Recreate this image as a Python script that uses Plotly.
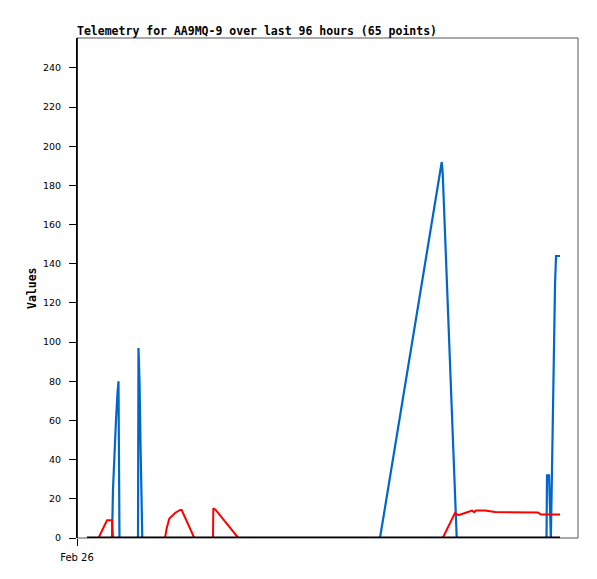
import plotly.graph_objects as go

# Hours since Feb 26 00:00
blue_hours = [1.92, 6.71, 6.90, 7.19, 7.47, 7.76, 7.95, 8.14,
              11.69, 11.78, 11.98, 12.17, 12.36, 12.51,
              58.06, 69.89, 70.08, 72.76,
              89.97, 90.06, 90.45, 90.54, 90.69, 90.80,
              91.02, 91.21, 91.40, 91.60, 91.79, 92.55]
blue_values = [0, 0, 25, 45, 60, 74, 80, 0,
               0, 97, 80, 48, 16, 0,
               0, 192, 186, 0,
               0, 32, 32, 24, 8, 0,
               35, 72, 101, 130, 144, 144]

red_hours = [1.92, 4.12, 5.75, 6.71, 6.76, 6.90,
             16.86, 17.19, 17.69, 18.78, 19.74, 20.06, 22.48,
             26.06, 26.12, 26.58, 30.91,
             70.08, 72.43, 73.06, 74.35, 75.12, 75.69, 76.07, 76.46,
             76.84, 78.18, 80.10, 88.34, 88.91, 92.55]
red_values = [0, 0, 9, 9, 5.5, 0,
              0, 5, 10, 12.8, 14.3, 14.3, 0,
              0, 15.2, 14.3, 0,
              0, 12.8, 11.7, 12.8, 13.5, 14, 13.2, 14,
              14, 14, 13.3, 13, 12, 12]

black_hours = [1.92, 92.55]
black_values = [0, 0]

y_ticks = [0, 20, 40, 60, 80, 100, 120, 140, 160, 180, 200, 220, 240]
x_tick_vals = [0]
x_tick_text = ["Feb 26"]

# page has an 8px body margin; figure sized to place the plot area at 77..578 x 38..538
W, H = 589, 571
L, R, T, B = 69, 19, 30, 41

fig = go.Figure()
fig.add_trace(go.Scatter(x=blue_hours, y=blue_values, mode="lines",
                         line=dict(color="#0066CC", width=2.2), showlegend=False))
fig.add_trace(go.Scatter(x=red_hours, y=red_values, mode="lines",
                         line=dict(color="#FF0000", width=2), showlegend=False))
fig.add_trace(go.Scatter(x=black_hours, y=black_values, mode="lines",
                         line=dict(color="#000000", width=2.8), showlegend=False))

fig.update_layout(
    width=W, height=H,
    margin=dict(l=L, r=R, t=T, b=B, pad=0),
    paper_bgcolor="white", plot_bgcolor="white",
    title=dict(text="<b>Telemetry for AA9MQ-9 over last 96 hours (65 points)</b>",
               font=dict(family="DejaVu Sans Mono", size=11.5, color="black"),
               x=L / W, xanchor="left", xref="container",
               y=1 - 23 / H, yanchor="middle", yref="container"),
    xaxis=dict(range=[0, 96], showgrid=False, zeroline=False,
               tickmode="array", tickvals=x_tick_vals, ticktext=x_tick_text,
               ticks="outside", ticklen=7, tickcolor="black", tickwidth=1,
               ticklabelstandoff=3,
               showline=False,
               tickfont=dict(family="DejaVu Sans", size=10, color="black")),
    yaxis=dict(range=[0, 255.3], showgrid=False, zeroline=False,
               tickmode="array", tickvals=y_ticks,
               ticks="outside", ticklen=7, tickcolor="black", tickwidth=1,
               ticklabelstandoff=6,
               showline=True, linecolor="black", linewidth=1,
               tickfont=dict(family="DejaVu Sans", size=9.5, color="black")),
    shapes=[dict(type="rect", xref="paper", yref="paper", x0=0, y0=0, x1=1, y1=1,
                 line=dict(color="#555555", width=1), layer="below"),
            dict(type="line", xref="paper", yref="paper", x0=0, y0=0, x1=0, y1=1,
                 line=dict(color="black", width=1.5))],
    annotations=[dict(text="<b>Values</b>", textangle=-90, showarrow=False,
                      xref="paper", yref="paper", x=(32 - 77) / (W - L - R), y=0.5,
                      xanchor="center", yanchor="middle",
                      font=dict(family="DejaVu Sans Mono", size=11.5, color="black"))],
)

fig.write_html("out.html")
